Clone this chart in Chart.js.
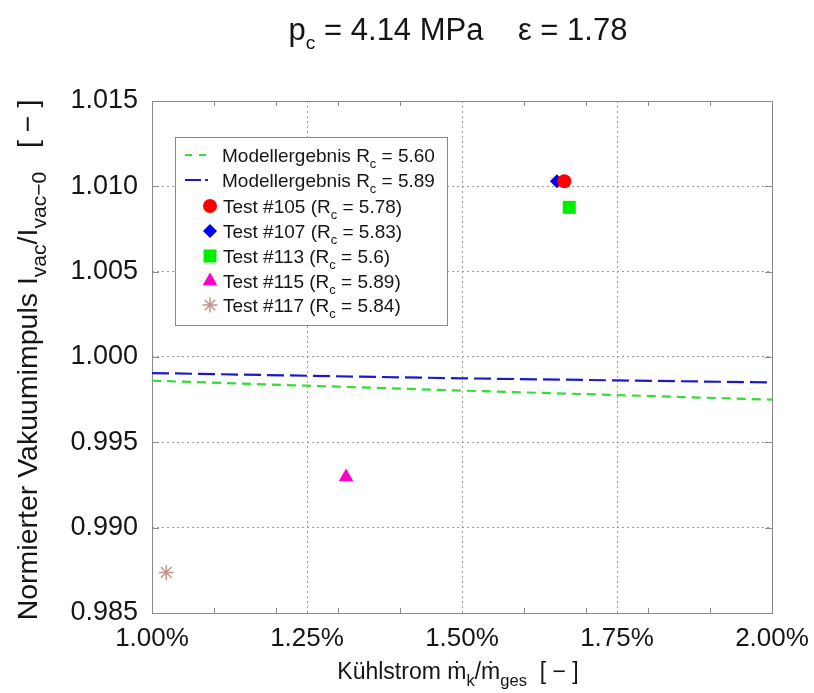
<!DOCTYPE html>
<html><head><meta charset="utf-8">
<script src="https://cdn.jsdelivr.net/npm/chart.js@4.4.0/dist/chart.umd.min.js"></script>
<style>html,body{margin:0;padding:0;background:#fff;}#wrap{width:814px;height:693px;position:relative;}</style>
</head><body><div id="wrap"><canvas id="c" width="814" height="693"></canvas></div>
<script>
const FONT = '"Liberation Sans", Arial, Helvetica, sans-serif';

// ---- data ----
const xTickValues = [1.00, 1.25, 1.50, 1.75, 2.00];
const xMinorTicks = [1.1, 1.2, 1.3, 1.4, 1.6, 1.7, 1.8, 1.9];
const yTickValues = [0.985, 0.990, 0.995, 1.000, 1.005, 1.010, 1.015];

const modelX      = [1.00, 1.25, 1.50, 1.75, 2.00];
const modelRc560  = [0.99861, 0.99832, 0.99803, 0.99777, 0.99750];
const modelRc589  = [0.99906, 0.99890, 0.99875, 0.99863, 0.99851];
const modelLabels = ['5.60', '5.89'];

const testNames = ['Test #105', 'Test #107', 'Test #113', 'Test #115', 'Test #117'];
const testRc    = ['5.78', '5.83', '5.6', '5.89', '5.84'];
const testX     = [1.665, 1.653, 1.673, 1.313, 1.023];
const testY     = [1.0103, 1.0103, 1.00877, 0.99297, 0.98738];

// ---- styles ----
const testStyles = [
  {pointStyle:'circle',  radius:7,   color:'#ff0000', border:0},
  {pointStyle:'rectRot', radius:7,   color:'#0000ee', border:0},
  {pointStyle:'rect',    radius:9.2, color:'#00ee00', border:0},
  {pointStyle:'triangle',radius:8.5, color:'#ff00cc', border:0},
  {pointStyle:'star',    radius:7.5, color:'#c49490', border:1.5}
];
const lineStyles = [
  {color:'#33dd33', dash:[9,6]},
  {color:'#1a1acc', dash:[17,6]}
];

const datasets = [];
[modelRc560, modelRc589].forEach((arr, i) => {
  datasets.push({
    label: 'Modellergebnis R_c = ' + modelLabels[i],
    data: modelX.map((x, j) => ({x: x, y: arr[j]})),
    showLine: true, borderColor: lineStyles[i].color, borderWidth: 2.2,
    borderDash: lineStyles[i].dash, pointRadius: 0, fill: false, tension: 0
  });
});
testNames.forEach((n, i) => {
  const s = testStyles[i];
  datasets.push({
    label: n + ' (R_c = ' + testRc[i] + ')',
    data: [{x: testX[i], y: testY[i]}],
    pointStyle: s.pointStyle, pointRadius: s.radius,
    backgroundColor: s.color, borderColor: s.color, borderWidth: s.border
  });
});

// ---- rich text helpers ----
function richWidth(ctx, parts, size, sf) {
  let w = 0;
  parts.forEach(p => { ctx.font = (p.sub ? size * sf : size) + 'px ' + FONT; w += ctx.measureText(p.t).width; });
  return w;
}
function drawRich(ctx, parts, x, y, size, align, sf, so) {
  sf = sf || 0.7; so = so || 0.3;
  const w = richWidth(ctx, parts, size, sf);
  let cx = align === 'center' ? x - w / 2 : (align === 'right' ? x - w : x);
  ctx.textAlign = 'left'; ctx.textBaseline = 'alphabetic';
  parts.forEach(p => {
    ctx.font = (p.sub ? size * sf : size) + 'px ' + FONT;
    ctx.fillText(p.t, cx, y + (p.sub ? size * so : 0));
    cx += ctx.measureText(p.t).width;
  });
}

function marker(ctx, s, x, y) {
  ctx.save();
  ctx.fillStyle = s.color; ctx.strokeStyle = s.color; ctx.lineWidth = s.border;
  Chart.helpers.drawPoint(ctx, {pointStyle: s.pointStyle, radius: s.radius, borderWidth: s.border, rotation: 0}, x, y);
  ctx.restore();
}

const deco = {
  id: 'deco',
  beforeDatasetsDraw(chart) {
    const ctx = chart.ctx, a = chart.chartArea, xs = chart.scales.x, ys = chart.scales.y;
    ctx.save();
    ctx.strokeStyle = '#8a8a8a'; ctx.lineWidth = 1; ctx.setLineDash([]);
    ctx.beginPath();
    xMinorTicks.forEach(v => {
      const px = Math.round(xs.getPixelForValue(v)) + 0.5;
      ctx.moveTo(px, a.bottom); ctx.lineTo(px, a.bottom - 5);
      ctx.moveTo(px, a.top); ctx.lineTo(px, a.top + 5);
    });
    yTickValues.forEach(v => {
      const py = Math.round(ys.getPixelForValue(v)) + 0.5;
      ctx.moveTo(a.left, py); ctx.lineTo(a.left + 7, py);
      ctx.moveTo(a.right, py); ctx.lineTo(a.right - 7, py);
    });
    ctx.stroke();
    ctx.strokeRect(Math.round(a.left) + 0.5, Math.round(a.top) + 0.5, Math.round(a.right - a.left), Math.round(a.bottom - a.top));
    ctx.restore();
  },
  afterDraw(chart) {
    const ctx = chart.ctx;
    ctx.save();
    ctx.fillStyle = '#151515';
    // title
    drawRich(ctx, [{t:'p'},{t:'c',sub:true},{t:' = 4.14 MPa    ε = 1.78'}], 458, 40, 31, 'center', 0.62, 0.3);
    // x title
    drawRich(ctx, [{t:'Kühlstrom '},{t:'ṁ'},{t:'k',sub:true},{t:'/'},{t:'ṁ'},{t:'ges',sub:true},{t:'  [ − ]'}], 458, 679, 23, 'center', 0.72, 0.32);
    // y title
    ctx.save();
    ctx.translate(37, 360);
    ctx.rotate(-Math.PI / 2);
    drawRich(ctx, [{t:'Normierter Vakuumimpuls I'},{t:'vac',sub:true},{t:'/I'},{t:'vac−0',sub:true},{t:'   [ − ]'}], 0, 0, 28.5, 'center', 0.74, 0.3);
    ctx.restore();
    // legend
    const bx = 175, by = 137, bw = 272, bh = 188;
    ctx.fillStyle = '#ffffff';
    ctx.fillRect(bx, by, bw, bh);
    ctx.strokeStyle = '#8a8a8a'; ctx.lineWidth = 1;
    ctx.strokeRect(bx + 0.5, by + 0.5, bw, bh);
    const rows = [155, 180, 206, 231, 256, 281, 305];
    ctx.lineWidth = 2;
    ctx.strokeStyle = lineStyles[0].color; ctx.setLineDash([7, 7]);
    ctx.beginPath(); ctx.moveTo(185, rows[0]); ctx.lineTo(209, rows[0]); ctx.stroke();
    ctx.strokeStyle = lineStyles[1].color; ctx.setLineDash([]);
    ctx.beginPath(); ctx.moveTo(185, rows[1]); ctx.lineTo(201, rows[1]); ctx.moveTo(205, rows[1]); ctx.lineTo(208, rows[1]); ctx.stroke();
    ctx.fillStyle = '#151515';
    modelLabels.forEach((m, i) => {
      drawRich(ctx, [{t:'Modellergebnis R'},{t:'c',sub:true},{t:' = ' + m}], 222, rows[i] + 7, 19, 'left', 0.68, 0.3);
    });
    testNames.forEach((n, i) => {
      marker(ctx, testStyles[i], 210, rows[i + 2]);
      ctx.fillStyle = '#151515';
      drawRich(ctx, [{t:n + ' (R'},{t:'c',sub:true},{t:' = ' + testRc[i] + ')'}], 223, rows[i + 2] + 7, 19, 'left', 0.68, 0.3);
    });
    ctx.restore();
  }
};

const gridColor = (min, max) => (c) => {
  const v = c.tick ? c.tick.value : null;
  if (v === null || Math.abs(v - min) < 1e-9 || Math.abs(v - max) < 1e-9) return 'rgba(0,0,0,0)';
  return '#9a9a9a';
};

new Chart(document.getElementById('c'), {
  type: 'scatter',
  data: {datasets: datasets},
  plugins: [deco],
  options: {
    responsive: false, animation: false, events: [],
    layout: {padding: {top: 101, right: 42, bottom: 0, left: 0}},
    plugins: {legend: {display: false}, title: {display: false}, tooltip: {enabled: false}},
    scales: {
      x: {
        type: 'linear', min: 1.0, max: 2.0,
        afterBuildTicks: s => { s.ticks = xTickValues.map(v => ({value: v})); },
        afterFit: s => { s.height = 80; s.paddingLeft = 0; s.paddingRight = 0; },
        ticks: {callback: v => v.toFixed(2) + '%', font: {size: 26, family: FONT}, color: '#151515', padding: 10, maxRotation: 0, autoSkip: false},
        grid: {color: gridColor(1.0, 2.0), lineWidth: 1, drawTicks: false},
        border: {display: false, dash: [2, 3]}
      },
      y: {
        type: 'linear', min: 0.985, max: 1.015,
        afterBuildTicks: s => { s.ticks = yTickValues.map(v => ({value: v})); },
        afterFit: s => { s.width = 152; s.paddingTop = 0; s.paddingBottom = 0; },
        ticks: {callback: v => v.toFixed(3), font: {size: 27, family: FONT}, color: '#151515', padding: 14, autoSkip: false},
        grid: {color: gridColor(0.985, 1.015), lineWidth: 1, drawTicks: false},
        border: {display: false, dash: [2, 3]}
      }
    }
  }
});
</script></body></html>
